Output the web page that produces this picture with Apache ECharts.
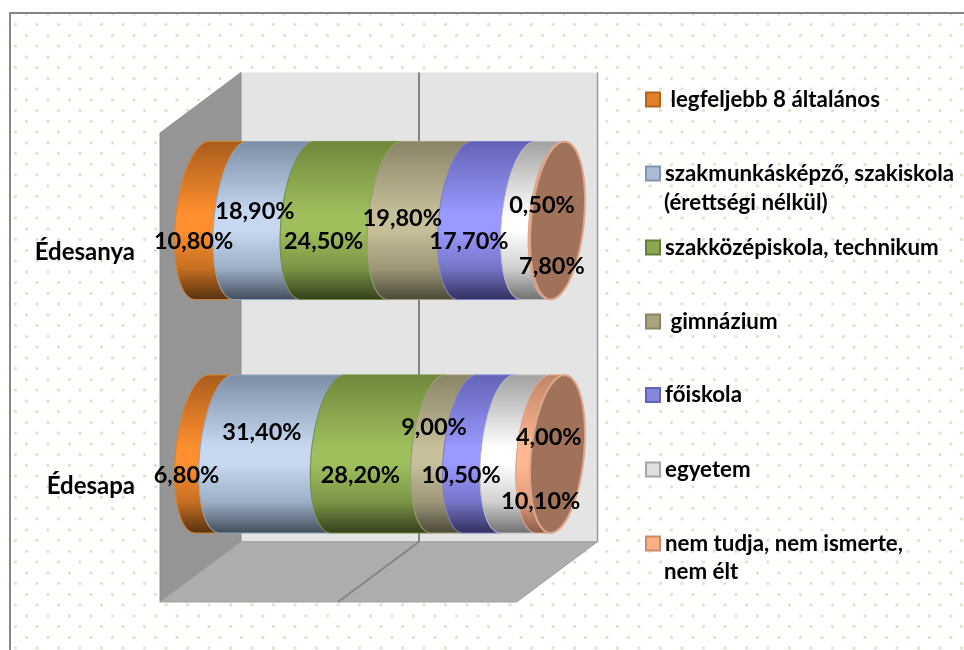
<!DOCTYPE html>
<html><head><meta charset="utf-8">
<style>
html,body{margin:0;padding:0;background:#fff;width:964px;height:650px;overflow:hidden}
#paper{position:absolute;left:8.5px;top:11.5px;right:0;bottom:0;border-left:2px solid #868686;border-top:2px solid #868686;
background-image:radial-gradient(circle at 1.5px 1.5px,#e2deC2 1.1px,rgba(255,255,255,0) 1.9px),radial-gradient(circle at 1.5px 1.5px,#e2deC2 1.1px,rgba(255,255,255,0) 1.9px);
background-size:21.5px 21.5px;background-position:3px 9px,14px 20px}
#c{position:absolute;left:0;top:0;width:964px;height:650px}
</style></head><body>
<div id="paper"></div><div id="c"></div>
<script src="https://cdn.jsdelivr.net/npm/echarts@6/dist/echarts.min.js"></script>
<script>
const categories = ['Édesapa', 'Édesanya'];
const seriesNames = ['legfeljebb 8 általános','szakmunkásképző, szakiskola (érettségi nélkül)','szakközépiskola, technikum','gimnázium','főiskola','egyetem','nem tudja, nem ismerte, nem élt'];
const elementary = [6.8, 10.8];
const vocational = [31.4, 18.9];
const technical = [28.2, 24.5];
const grammar = [9.0, 19.8];
const college = [10.5, 17.7];
const university = [10.1, 7.8];
const unknown = [4.0, 0.5];
const seriesValues = [elementary, vocational, technical, grammar, college, university, unknown];

const palette = [
 {fill:'#E17F2B',edge:'#B5651D',top:'#A85D1C',mid:'#FF8F2E',low:'#C66F22',bot:'#55300F',rim:'#D9822F'},
 {fill:'#A9BCD6',edge:'#8195AE',top:'#7C8EA6',mid:'#C6D9F1',low:'#9DAFC6',bot:'#414C5A',rim:'#93A7C0'},
 {fill:'#8AA850',edge:'#66803A',top:'#6F883C',mid:'#9FBF5C',low:'#7A9546',bot:'#323F1B',rim:'#74903E'},
 {fill:'#ABA47F',edge:'#8A8364',top:'#8A8468',mid:'#C6BF99',low:'#9D9778',bot:'#4A4737',rim:'#A39C7A'},
 {fill:'#8585DC',edge:'#6464B4',top:'#6363B5',mid:'#9999FF',low:'#7575C8',bot:'#2F2F5C',rim:'#7C7CD0'},
 {fill:'#E0E0E0',edge:'#A6A6A6',top:'#A0A0A0',mid:'#FFFFFF',low:'#D0D0D0',bot:'#6E6E6E',rim:'#BDBDBD'},
 {fill:'#FCAE85',edge:'#C88A6E',top:'#C08468',mid:'#FFB891',low:'#DE9E7C',bot:'#8A5B45',rim:'#E2A687'}
];
const capFill = '#A0725A', capRim = '#DCA78E';
const legendCentres = [99.5,173.5,247.5,321.5,395,469.5,543.5];
const legendFirstLines = [' legfeljebb 8 általános','szakmunkásképző, szakiskola','szakközépiskola, technikum',' gimnázium','főiskola','egyetem','nem tudja, nem ismerte,'];
const labelNudges = [ // [dx,dy] for [Édesapa, Édesanya]
 [[0,0],[0,0]],
 [[7.5,-43],[8.5,-30]],
 [[0,0],[0,0]],
 [[7.5,-48],[0,-22.7]],
 [[0,0],[0,0]],
 [[43,26],[37.6,25.3]],
 [[26,-38],[13,-36]]
];
const labelFont = 'bold 23.5px Lato, "Open Sans", sans-serif';
const legendFont = 'bold 22.3px Lato, "Open Sans", sans-serif';
const halfWidth = 26.6, skew = 7, bandShare = 0.677;

function halfEllipse(cx, cy, b, reverse){
  const pts = [];
  for(let i=0;i<=24;i++){
    const t = Math.PI/2 + Math.PI*i/24;
    pts.push([cx + halfWidth*Math.cos(t) + skew*Math.sin(t), cy - b*Math.sin(t)]);
  }
  return reverse ? pts.reverse() : pts;
}
function fullEllipse(cx, cy, b){
  const pts = [];
  for(let i=0;i<48;i++){
    const t = 2*Math.PI*i/48;
    pts.push([cx + halfWidth*Math.cos(t) + skew*Math.sin(t), cy - b*Math.sin(t)]);
  }
  return pts;
}
const chart = echarts.init(document.getElementById('c'), null, {renderer:'canvas'});

const series = seriesNames.map((name, s) => {
  const data = categories.map((_, c) => {
    let start = 0;
    for(let k=0;k<s;k++) start += seriesValues[k][c];
    return [start, start + seriesValues[s][c], c, seriesValues[s][c]];
  });
  const p = palette[s];
  return {
    type:'custom', name, data, coordinateSystem:'cartesian2d',
    encode:{x:[0,1], y:2},
    itemStyle:{color:p.fill, borderColor:p.edge, borderWidth:2},
    clip:false, z:5,
    renderItem(params, api){
      const start = api.coord([api.value(0), api.value(2)]);
      const end = api.coord([api.value(1), api.value(2)]);
      const b = api.size([0,1])[1] * bandShare / 2;
      const cy = start[1];
      const poly = halfEllipse(start[0], cy, b, false).concat(halfEllipse(end[0], cy, b, true));
      const children = [{
        type:'polygon', z2:s+1, shape:{points:poly},
        style:{fill:new echarts.graphic.LinearGradient(0,0,0,1,[
          {offset:0,color:p.top},{offset:0.46,color:p.mid},{offset:0.56,color:p.mid},{offset:0.8,color:p.low},{offset:1,color:p.bot}]),
          stroke:p.rim, lineWidth:1}
      }];
      if(s === seriesNames.length-1){
        children.push({type:'polygon', z2:20, shape:{points:fullEllipse(end[0], cy, b)},
          style:{fill:capFill, stroke:capRim, lineWidth:2}});
      }
      const cat = api.value(2), n = labelNudges[s][cat];
      const mid = (start[0]+end[0])/2;
      children.push({type:'text', z2:100,
        style:{x:mid-halfWidth-1+n[0], y:cy+21+n[1], text:api.value(3).toFixed(2).replace('.',',')+'%',
          fill:'#000', font:labelFont, align:'center', verticalAlign:'middle'}});
      return {type:'group', children};
    }
  };
});

const legends = seriesNames.map((name,i)=>({
  data:[name], left:645, top:legendCentres[i]-13, padding:0, itemWidth:14, itemHeight:14,
  selectedMode:false, icon:'rect', orient:'vertical',
  formatter:()=>legendFirstLines[i],
  textStyle:{fontFamily:'Lato', fontWeight:'bold', fontSize:22.3, lineHeight:26, color:'#000'}
}));

const wallLine = '#858585';
const option = {
  animation:false,
  backgroundColor:'transparent',
  grid:{left:202, top:103.75, width:355.5, height:467, containLabel:false},
  xAxis:{type:'value', min:0, max:100, show:false},
  yAxis:{type:'category', data:categories, axisLine:{show:false}, axisTick:{show:false}, splitLine:{show:false},
    axisLabel:{margin:67, color:'#000', fontFamily:'Lato', fontWeight:'bold', fontSize:24, verticalAlign:'top', lineHeight:64}},
  legend:legends,
  series,
  graphic:[
    {type:'polygon', z:1, shape:{points:[[241,72.5],[597.5,72.5],[597.5,541.7],[241,541.7]]}, style:{fill:'#E4E4E4'}},
    {type:'polygon', z:1, shape:{points:[[241,72.5],[160,133],[160,602],[241,541.7]]}, style:{fill:'#959595', stroke:'#8e8e8e', lineWidth:1}},
    {type:'polygon', z:1, shape:{points:[[160,602],[241,541.7],[597.5,541.7],[516.7,602]]}, style:{fill:'#ADADAD', stroke:'#a0a0a0', lineWidth:1}},
    {type:'polyline', z:2, shape:{points:[[419,72.5],[419,541.7],[338,602]]}, style:{fill:'none', stroke:wallLine, lineWidth:2}},
    {type:'line', z:2, shape:{x1:597.5,y1:72.5,x2:597.5,y2:541.7}, style:{stroke:'#999999', lineWidth:1.5}},
    {type:'text', z:3, style:{x:664, y:203, text:'(érettségi nélkül)', fill:'#000', font:legendFont, align:'left', verticalAlign:'middle'}},
    {type:'text', z:3, style:{x:664, y:572, text:'nem élt', fill:'#000', font:legendFont, align:'left', verticalAlign:'middle'}}
  ]
};
chart.setOption(option);
</script></body></html>
